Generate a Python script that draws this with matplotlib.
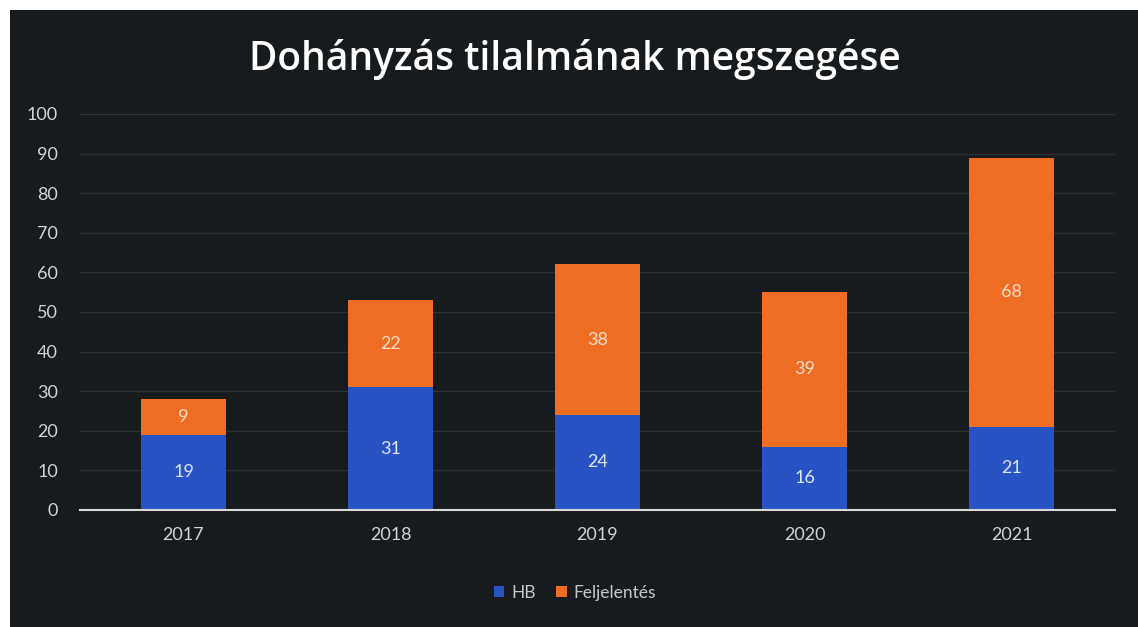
import matplotlib
matplotlib.use('Agg')
import matplotlib.pyplot as plt
from matplotlib.patches import Rectangle
import numpy as np

years = ['2017', '2018', '2019', '2020', '2021']
hb = [19, 31, 24, 16, 21]
feljelentes = [9, 22, 38, 39, 68]

BG = '#171b1d'
BLUE = '#2753c4'
ORANGE = '#ef6e24'

plt.rcParams['font.family'] = ['Lato', 'DejaVu Sans']

fig = plt.figure(figsize=(11.38, 6.27), dpi=100, facecolor='white')
# dark slide area (photo has a white margin at top and left)
fig.patches.append(Rectangle((10 / 1138, 0), 1, 1 - 10 / 627, transform=fig.transFigure,
                             facecolor=BG, edgecolor='none', zorder=0))

ax = fig.add_axes([80 / 1138, (627 - 510) / 627, 1035 / 1138, 396 / 627])
ax.set_facecolor('none')
ax.set_zorder(2)

x = np.arange(len(years))
w = 0.41
ax.bar(x, hb, w, color=BLUE, label='HB', zorder=3)
ax.bar(x, feljelentes, w, bottom=hb, color=ORANGE, label='Feljelentés', zorder=3)

for i in range(len(years)):
    ax.text(x[i], hb[i] / 2, str(hb[i]), ha='center', va='center',
            color='#dfe6f5', fontsize=13, zorder=4)
    ax.text(x[i], hb[i] + feljelentes[i] / 2, str(feljelentes[i]), ha='center', va='center',
            color='#f7dcc8', fontsize=13, zorder=4)

ax.set_xlim(-0.5, 4.5)
ax.set_ylim(0, 100)
ax.set_yticks(range(0, 101, 10))
ax.set_xticks(x)
ax.set_xticklabels(years)
ax.tick_params(colors='#d4d4d4', labelsize=13, length=0)
ax.tick_params(axis='x', pad=12)
ax.tick_params(axis='y', pad=16)
ax.grid(axis='y', color='#2c3234', linewidth=1, zorder=0)
for s in ['top', 'right', 'left']:
    ax.spines[s].set_visible(False)
ax.spines['bottom'].set_color('#d8d8d8')
ax.spines['bottom'].set_linewidth(1.5)
ax.spines['bottom'].set_zorder(5)

fig.text(575 / 1138, 1 - 60 / 627, 'Dohányzás tilalmának megszegése', ha='center', va='center',
         color='white', fontsize=28, fontweight='semibold', family=['Open Sans', 'DejaVu Sans'],
         zorder=3)

leg = fig.legend(loc='center', bbox_to_anchor=(575 / 1138, 1 - 593 / 627), ncol=2,
                 frameon=False, fontsize=12.5, handlelength=0.6, handleheight=0.6,
                 handletextpad=0.4, columnspacing=1.2)
leg.set_zorder(3)
for t in leg.get_texts():
    t.set_color('#c8c8c8')

fig.savefig('out.png', dpi=100, facecolor='white')
